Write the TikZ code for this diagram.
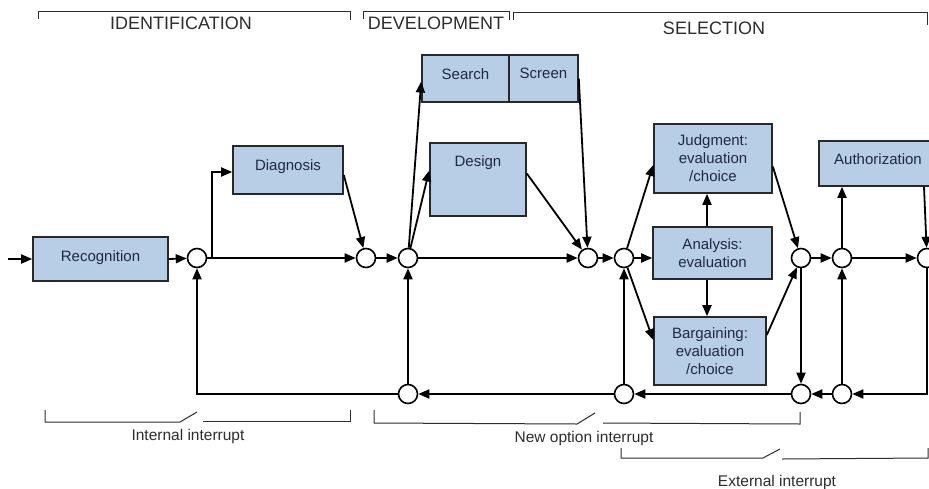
\documentclass[tikz,border=0pt]{standalone}
\usepackage{fontspec}
\setmainfont{Liberation Sans}
\usetikzlibrary{arrows.meta,calc}
\definecolor{boxfill}{RGB}{184,206,230}
\definecolor{boxline}{RGB}{40,40,40}
\definecolor{txtc}{RGB}{30,42,66}
\definecolor{hdr}{RGB}{45,45,45}
\begin{document}
\begin{tikzpicture}[x=1pt,y=-1pt,
  box/.style={draw=boxline, fill=boxfill, line width=1.6pt, inner sep=0pt, text=txtc, font=\fontsize{15}{18}\selectfont, align=center},
  sbox/.style={box, text height=11pt},
  circ/.style={circle, draw=black, fill=white, line width=1.6pt, minimum size=19pt, inner sep=0pt},
  arr/.style={draw=black, line width=1.8pt, -{Triangle[length=11pt,width=9pt]}},
  brk/.style={draw=hdr, line width=1pt},
  hdrtxt/.style={text=hdr, font=\fontsize{18}{21}\selectfont, inner sep=0pt},
  lbl/.style={text=hdr, font=\fontsize{15.5}{18}\selectfont, inner sep=0pt}]
\useasboundingbox (0,0) rectangle (929,488);
\fill[white] (0,0) rectangle (929,488);
\clip (0,0) rectangle (929,488);

% boxes
\node[sbox, minimum width=135pt, minimum height=44pt, text depth=6pt] (recog) at (100.5,259) {Recognition};
\node[sbox, minimum width=110pt, minimum height=48pt, text depth=10pt] (diag) at (288,170) {Diagnosis};
\node[sbox, minimum width=87pt, minimum height=47pt, text depth=10pt] (search) at (465.5,78.5) {Search};
\node[sbox, minimum width=69pt, minimum height=47pt, text depth=12pt] (screen) at (543.5,78.5) {Screen};
\node[sbox, minimum width=96pt, minimum height=73pt, text depth=37pt] (design) at (478,179.5) {Design};
\node[box, minimum width=118pt, minimum height=69pt] (judg) at (713,158.5) {Judgment:\\evaluation\\/choice};
\node[box, minimum width=119pt, minimum height=52pt] (anal) at (712.5,253) {Analysis:\\evaluation};
\node[box, minimum width=112pt, minimum height=68pt] (barg) at (710,351) {Bargaining:\\evaluation\\/choice};
\node[sbox, minimum width=118pt, minimum height=45pt, text depth=9pt] (auth) at (878,163.5) {Authorization};

% circles
\node[circ] (c1) at (197,258) {};
\node[circ] (c2) at (366,258) {};
\node[circ] (c3) at (408,258) {};
\node[circ] (c4) at (588,258) {};
\node[circ] (c5) at (624,258) {};
\node[circ] (c6) at (801,258) {};
\node[circ] (c7) at (842,258) {};
\node[circ] (c8) at (927,258) {};
\node[circ] (b1) at (408,394) {};
\node[circ] (b2) at (624,394) {};
\node[circ] (b3) at (801,394) {};
\node[circ] (b4) at (842,394) {};

\coordinate (in) at (8,259);
\coordinate (br1) at (212,258);

% connectors
\draw[arr] (in) -- (recog.west);
\draw[arr] (recog.east) -- (c1);
\draw[arr] (c1) -- (c2);
\draw[arr] (br1) |- ($(diag.west)+(0,2)$);
\draw[arr] ($(diag.east)+(0,5)$) -- (c2);
\draw[arr] (c2) -- (c3);
\draw[arr] (c3) -- ($(search.west)+(0,3)$);
\draw[arr] (c3) -- ($(design.west)+(0,-9)$);
\draw[arr] (c3) -- (c4);
\draw[arr] ($(design.east)+(0,-6)$) -- (c4);
\draw[arr] (screen.east) -- (c4);
\draw[arr] (c4) -- (c5);
\draw[arr] (c5) -- ($(judg.west)+(0,6.5)$);
\draw[arr] (c5) -- (c5 -| anal.west);
\draw[arr] (c5) -- ($(barg.west)+(0,-11)$);
\draw[arr] ($(anal.north)+(-5.5,0)$) -- ($(judg.south)+(-6,0)$);
\draw[arr] ($(anal.south)+(-5.5,0)$) -- ($(barg.north)+(-3,0)$);
\draw[arr] ($(judg.east)+(0,8)$) -- (c6);
\draw[arr] ($(barg.east)+(0,-16)$) -- (c6);
\draw[arr] (c6) -- (c7);
\draw[arr] (c6) -- (b3);
\draw[arr] (c7) -- (c7 |- auth.south);
\draw[arr] (c7) -- (c8);
\draw[arr] ($(auth.south)+(46,0)$) -- (c8);
\draw[arr] (c8.south) |- (b4);
\draw[arr] (b4) -- (b3);
\draw[arr] (b4) -- (c7);
\draw[arr] (b3) -- (b2);
\draw[arr] (b2) -- (c5);
\draw[arr] (b2) -- (b1);
\draw[arr] (b1) -- (c3);
\draw[arr] (b1) -| (c1);

% phase brackets
\draw[brk] (38,19) -- (38,11) -- (350,11) -- (350,20);
\draw[brk] (363,19) -- (363,11) -- (509,11) -- (509,20);
\draw[brk] (513,20) -- (513,12) -- (927,12) -- (927,25);
\node[hdrtxt] (hid) at (181,23) {IDENTIFICATION};
\node[hdrtxt] (hdev) at (436,23) {DEVELOPMENT};
\node[hdrtxt] (hsel) at (714,28) {SELECTION};

% interrupt brackets
\draw[brk] (45,410) -- (45,422) -- (180,422) -- (197,412);
\draw[brk] (203,421) -- (350,421) -- (350,410);
\draw[brk] (374,410) -- (374,423) -- (577,424) -- (595,413);
\draw[brk] (603,423) -- (800,424) -- (800,412);
\draw[brk] (621,448) -- (621,458) -- (763,458) -- (780,449);
\draw[brk] (782,459) -- (928,458) -- (928,448);
\node[lbl] (lint) at (188,436) {Internal interrupt};
\node[lbl] (lnew) at (584,438) {New option interrupt};
\node[lbl] (lext) at (777,482) {External interrupt};
\end{tikzpicture}
\end{document}
